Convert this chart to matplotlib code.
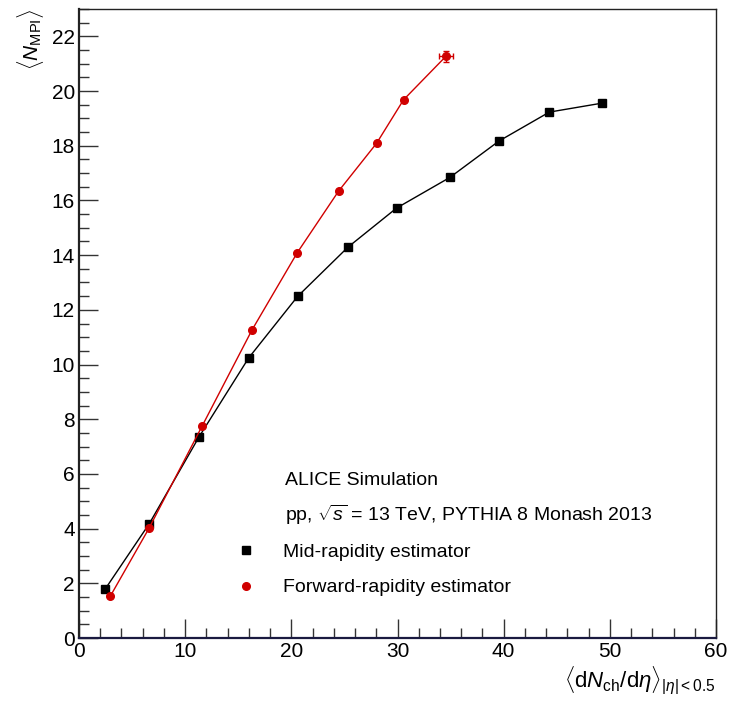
import numpy as np
import matplotlib.pyplot as plt
from matplotlib.lines import Line2D

plt.rcParams['font.family'] = ['Liberation Sans', 'DejaVu Sans']
plt.rcParams['mathtext.fontset'] = 'custom'
plt.rcParams['mathtext.rm'] = 'Liberation Sans'
plt.rcParams['mathtext.it'] = 'Liberation Sans:italic'

# mid-rapidity estimator (black squares)
mid_x = [2.45, 6.62, 11.3, 15.98, 20.59, 25.33, 29.91, 34.93, 39.55, 44.3, 49.3]
mid_y = [1.78, 4.18, 7.35, 10.24, 12.49, 14.29, 15.72, 16.84, 18.17, 19.23, 19.56]
mid_yerr = [0.02, 0.02, 0.02, 0.02, 0.02, 0.02, 0.02, 0.03, 0.04, 0.05, 0.12]

# forward-rapidity estimator (red circles)
fwd_x = [2.95, 6.59, 11.61, 16.29, 20.56, 24.45, 28.03, 30.57, 34.56]
fwd_y = [1.53, 4.01, 7.76, 11.26, 14.09, 16.34, 18.09, 19.68, 21.27]
fwd_xerr = [0.02, 0.02, 0.02, 0.02, 0.02, 0.02, 0.03, 0.05, 0.66]
fwd_yerr = [0.02, 0.02, 0.02, 0.02, 0.02, 0.02, 0.03, 0.05, 0.19]

red = '#d00000'

fig = plt.figure(figsize=(7.29, 7.06), dpi=100)
ax = fig.add_axes([79/729, 68/706, 637/729, 629/706])

ax.errorbar(mid_x, mid_y, yerr=mid_yerr, color='black', marker='s', ms=6,
            lw=1.0, elinewidth=1.0, capsize=0, zorder=3)
ax.errorbar(fwd_x, fwd_y, xerr=fwd_xerr, yerr=fwd_yerr, color=red, marker='o', ms=5.5,
            lw=1.0, elinewidth=1.0, capsize=2, zorder=3)

ax.set_xlim(0, 60)
ax.set_ylim(0, 23)
ax.set_xticks(np.arange(0, 61, 10))
ax.set_xticks(np.arange(0, 61, 2), minor=True)
ax.set_yticks(np.arange(0, 23, 2))
ax.set_yticks(np.arange(0, 23.01, 0.5), minor=True)
ax.tick_params(which='both', direction='in', top=False, right=False,
               labelsize=15, color='#333333', width=1.0)
ax.tick_params(which='major', length=13.5, pad=3)
ax.tick_params(which='minor', length=7)

for s in ['left', 'top', 'right']:
    ax.spines[s].set_linewidth(1.0)
    ax.spines[s].set_color('#222222')
ax.spines['bottom'].set_color('#1a1a40')
ax.spines['bottom'].set_linewidth(1.6)
ax.spines['left'].set_linewidth(1.6)

ax.set_ylabel(r'$\langle N_{\mathrm{MPI}}\rangle$', fontsize=15, loc='top', labelpad=4)
ax.set_xlabel(r'$\langle \mathrm{d}N_{\mathrm{ch}}/\mathrm{d}\eta\rangle_{|\eta|<0.5}$',
              fontsize=16, loc='right', labelpad=3)

ax.text(0.3234, 0.251, 'ALICE Simulation', transform=ax.transAxes,
        fontsize=14, va='center', ha='left')
ax.text(0.3234, 0.195, r'pp, $\sqrt{s}$ = 13 TeV, PYTHIA 8 Monash 2013',
        transform=ax.transAxes, fontsize=14, va='center', ha='left')

handles = [Line2D([], [], ls='none', marker='s', color='black', ms=6),
           Line2D([], [], ls='none', marker='o', color=red, ms=5.5)]
ax.legend(handles, ['Mid-rapidity estimator', 'Forward-rapidity estimator'],
          loc='upper left', bbox_to_anchor=(0.2317, 0.151), frameon=False,
          fontsize=14, borderpad=0, borderaxespad=0, handlelength=2.0,
          handletextpad=0.9, labelspacing=0.93)

fig.savefig('out.png', dpi=100)
